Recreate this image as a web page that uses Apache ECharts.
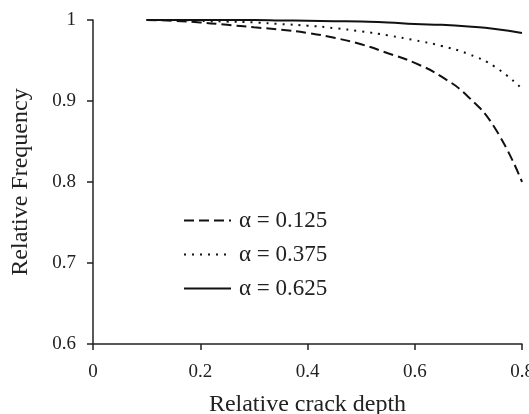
<!DOCTYPE html>
<html>
<head>
<meta charset="utf-8">
<script src="https://cdn.jsdelivr.net/npm/echarts@6/dist/echarts.min.js"></script>
<style>
  html, body { margin: 0; padding: 0; background: #fff; }
  #main { width: 529px; height: 414px; }
</style>
</head>
<body>
<div id="main"></div>
<script>
// relative crack depth (x)
var depth = [0.1, 0.15, 0.2, 0.25, 0.3, 0.35, 0.4, 0.45, 0.5, 0.55, 0.6, 0.65, 0.7, 0.75, 0.8];
// relative frequency for each alpha
var freqA125 = [1.0, 0.999, 0.997, 0.994, 0.991, 0.988, 0.984, 0.978, 0.970, 0.959, 0.947, 0.930, 0.905, 0.866, 0.800];
var freqA375 = [1.0, 1.0, 0.999, 0.998, 0.997, 0.995, 0.993, 0.990, 0.986, 0.981, 0.975, 0.968, 0.958, 0.942, 0.915];
var freqA625 = [1.0, 1.0, 1.0, 1.0, 1.0, 0.9995, 0.999, 0.9985, 0.998, 0.997, 0.995, 0.994, 0.992, 0.989, 0.984];
var names = ['α = 0.125', 'α = 0.375', 'α = 0.625'];
var xTicks = [0, 0.2, 0.4, 0.6, 0.8];
var yTicks = [0.6, 0.7, 0.8, 0.9, 1];

function pairs(ys) {
    return depth.map(function (x, i) { return [x, ys[i]]; });
}

var font = 'Liberation Serif';
var myChart = echarts.init(document.getElementById('main'));

myChart.setOption({
    backgroundColor: '#fff',
    animation: false,
    grid: { left: 93, right: 7, top: 20, bottom: 70, outerBoundsMode: 'none' },
    legend: {
        orient: 'vertical',
        left: 178,
        top: 204,
        itemWidth: 47,
        itemHeight: 10,
        itemGap: 11,
        data: names,
        itemStyle: { opacity: 0 },
        textStyle: { fontFamily: font, fontSize: 23, color: '#222', padding: [0, 0, 0, 3] }
    },
    xAxis: {
        type: 'value',
        min: 0,
        max: 0.8,
        interval: 0.2,
        name: 'Relative crack depth',
        nameLocation: 'middle',
        nameGap: 49,
        nameTextStyle: { fontFamily: font, fontSize: 24, color: '#222' },
        axisLine: { lineStyle: { color: '#222', width: 1.5 } },
        axisTick: { length: 6, lineStyle: { color: '#222', width: 1.5 } },
        axisLabel: {
            margin: 19, fontFamily: font, fontSize: 19, color: '#222',
            formatter: function (v) { return xTicks.indexOf(v) >= 0 ? String(v) : ''; }
        },
        splitLine: { show: false }
    },
    yAxis: {
        type: 'value',
        min: 0.6,
        max: 1,
        interval: 0.1,
        name: 'Relative Frequency',
        nameLocation: 'middle',
        nameGap: 60,
        nameTextStyle: { fontFamily: font, fontSize: 24, color: '#222' },
        axisLine: { show: true, lineStyle: { color: '#222', width: 1.5 } },
        axisTick: { show: true, length: 6, lineStyle: { color: '#222', width: 1.5 } },
        axisLabel: {
            margin: 17, fontFamily: font, fontSize: 19, color: '#222',
            formatter: function (v) {
                var r = Math.round(v * 10) / 10;
                return yTicks.indexOf(r) >= 0 ? String(r) : '';
            }
        },
        splitLine: { show: false }
    },
    series: [
        {
            name: names[0], type: 'line', smooth: true, symbol: 'none',
            lineStyle: { color: '#111', width: 2, type: [10, 5] },
            itemStyle: { color: '#111' },
            data: pairs(freqA125)
        },
        {
            name: names[1], type: 'line', smooth: true, symbol: 'none',
            lineStyle: { color: '#111', width: 2, type: [2, 6] },
            itemStyle: { color: '#111' },
            data: pairs(freqA375)
        },
        {
            name: names[2], type: 'line', smooth: true, symbol: 'none',
            lineStyle: { color: '#111', width: 2, type: 'solid' },
            itemStyle: { color: '#111' },
            data: pairs(freqA625)
        }
    ]
});
</script>
</body>
</html>
